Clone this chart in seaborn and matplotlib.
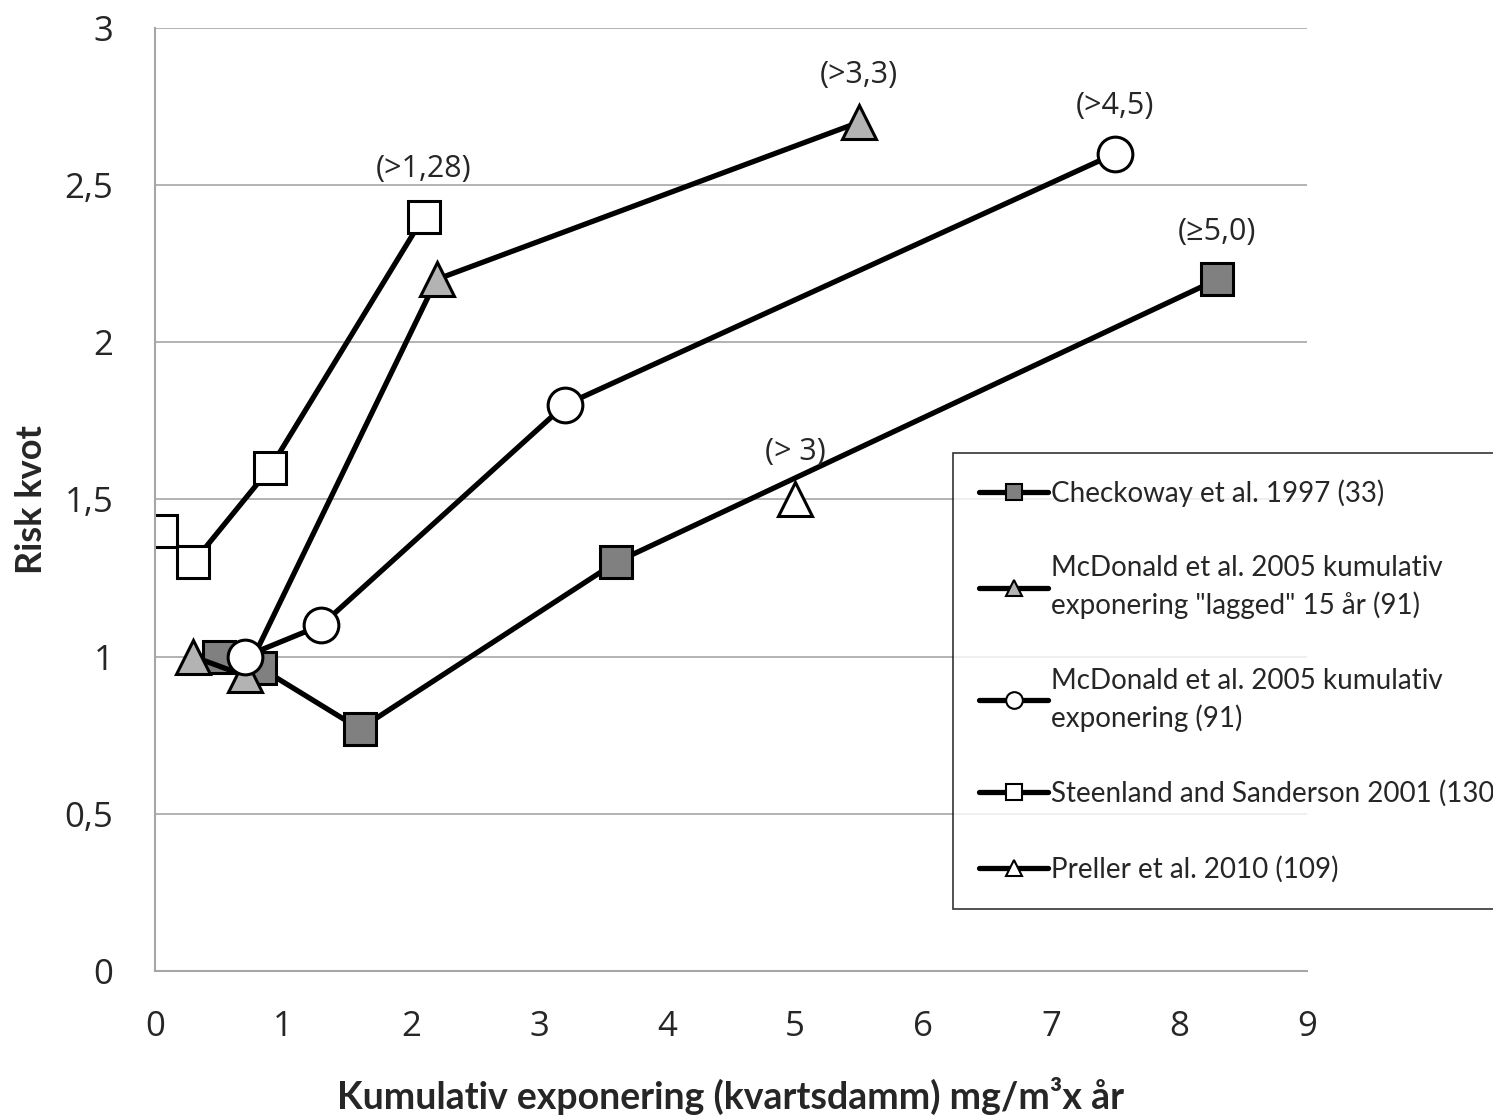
import numpy as np
import pandas as pd
import matplotlib
matplotlib.use("Agg")
import matplotlib.pyplot as plt
import seaborn as sns

# data
checkoway_x = [0.5, 0.82, 1.6, 3.6, 8.3]
checkoway_y = [1.0, 0.965, 0.77, 1.3, 2.2]

lagged_x = [0.3, 0.7, 2.2, 5.5]
lagged_y = [1.0, 0.94, 2.2, 2.7]

mcdonald_x = [0.7, 1.3, 3.2, 7.5]
mcdonald_y = [1.0, 1.1, 1.8, 2.6]

steenland_x = [0.05, 0.3, 0.9, 2.1]
steenland_y = [1.4, 1.3, 1.6, 2.4]

preller_x = [5.0]
preller_y = [1.5]

labels = ["Checkoway et al. 1997 (33)",
          "McDonald et al. 2005 kumulativ\nexponering \"lagged\" 15 år (91)",
          "McDonald et al. 2005 kumulativ\nexponering (91)",
          "Steenland and Sanderson 2001 (130)",
          "Preller et al. 2010 (109)"]

# annotations: text, x, y
notes = ["(>1,28)", "(>3,3)", "(>4,5)", "(≥5,0)", "(> 3)"]
note_x = [2.1, 5.5, 7.5, 8.3, 5.0]
note_y = [2.4, 2.7, 2.6, 2.2, 1.5]

sns.set_style("white")
plt.rcParams['font.family'] = ['Lato', 'DejaVu Sans']

fig = plt.figure(figsize=(14.93, 11.18), dpi=100)
ax = fig.add_axes([0.1038, 0.1315, 0.7716, 0.8435])

series = [
    (checkoway_x, checkoway_y, 's', '#808080', 23),
    (lagged_x, lagged_y, '^', '#b3b3b3', 25),
    (mcdonald_x, mcdonald_y, 'o', 'white', 25),
    (steenland_x, steenland_y, 's', 'white', 23),
    (preller_x, preller_y, '^', 'white', 25),
]

for (xs, ys, m, fc, ms), lab in zip(series, labels):
    df = pd.DataFrame({'x': xs, 'y': ys})
    sns.lineplot(data=df, x='x', y='y', sort=False, ax=ax, color='black',
                 lw=3.8 if len(xs) > 1 else 0, marker=m, markersize=ms,
                 markerfacecolor=fc, markeredgecolor='black',
                 markeredgewidth=2.2, label=lab)

for t, x, y in zip(notes, note_x, note_y):
    ax.annotate(t, (x, y), xytext=(0, 34), textcoords='offset points',
                ha='center', va='center', fontsize=22, family='Open Sans')

ax.set_xlim(0, 9)
ax.set_ylim(0, 3)
ax.set_xticks(range(0, 10))
ax.set_yticks(np.arange(0, 3.01, 0.5))
ax.set_yticklabels(['0', '0,5', '1', '1,5', '2', '2,5', '3'])
ax.grid(axis='y', color='#a6a6a6', lw=1.2)
ax.set_axisbelow(True)
for s in ['top', 'right']:
    ax.spines[s].set_visible(False)
for s in ['left', 'bottom']:
    ax.spines[s].set_color('#a6a6a6')
    ax.spines[s].set_linewidth(1.5)
ax.tick_params(axis='both', labelsize=25, length=8, width=1.2,
               color='#a6a6a6', direction='out')
ax.tick_params(axis='y', pad=22)
ax.tick_params(axis='x', pad=20)
for lbl in ax.get_xticklabels() + ax.get_yticklabels():
    lbl.set_family('Open Sans')

ax.set_xlabel("Kumulativ exponering (kvartsdamm) mg/m³x år",
              fontsize=27, fontweight='bold', labelpad=24)
ax.set_ylabel("Risk kvot", fontsize=26, fontweight='bold', labelpad=12)

leg = ax.legend(loc='upper left', bbox_to_anchor=(0.638, 0.595),
                bbox_transform=fig.transFigure, fontsize=20, frameon=True,
                fancybox=False, edgecolor='black', labelspacing=1.75,
                handlelength=2.5, handletextpad=0.1, borderpad=0.95,
                borderaxespad=0)
leg.get_frame().set_linewidth(1.2)
for t in leg.get_texts():
    t.set_linespacing(1.45)
for h in leg.legend_handles:
    h.set_markersize(12)
    h.set_markeredgewidth(1.5)
    h.set_linewidth(3.8)

fig.savefig("out.png", dpi=100)
